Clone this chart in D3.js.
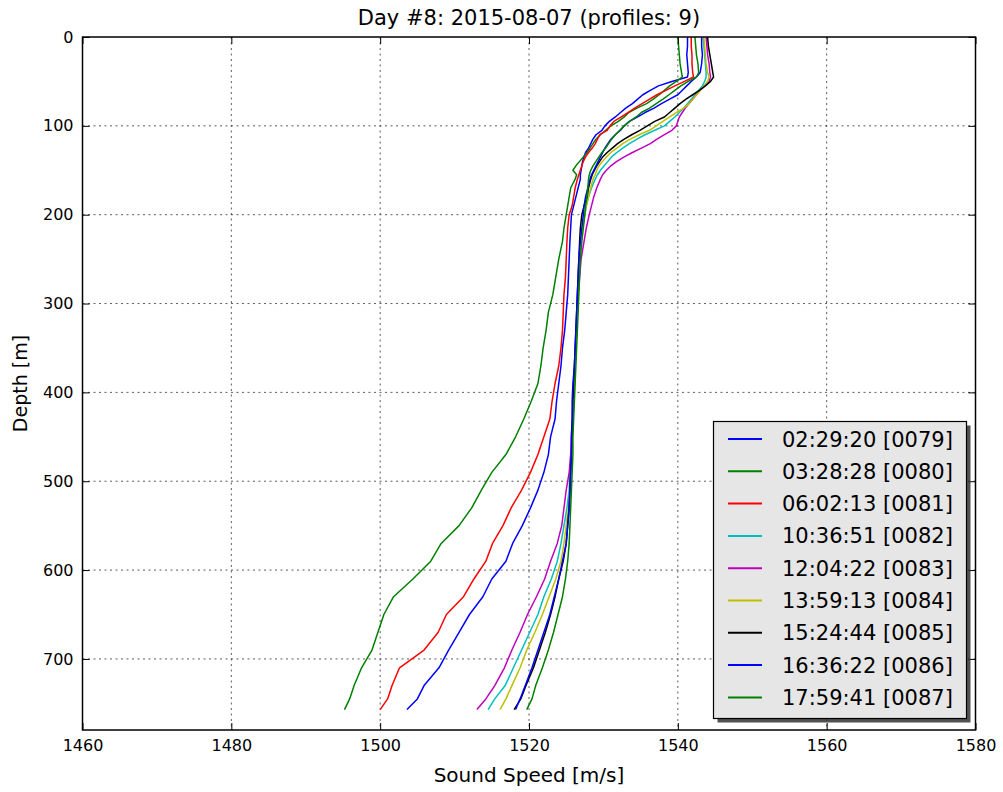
<!DOCTYPE html>
<html>
<head>
<meta charset="utf-8">
<script src="https://cdn.jsdelivr.net/npm/d3@7"></script>
<style>
  body { margin: 0; background: #fff; }
  text { font-family: "DejaVu Sans", sans-serif; fill: #000; }
</style>
</head>
<body>
<svg id="chart" width="1003" height="792"></svg>
<script>
// ---------------- DATA ----------------
const titleText = "Day #8: 2015-08-07 (profiles: 9)";
const xLabel = "Sound Speed [m/s]";
const yLabel = "Depth [m]";
const xTicks = [1460, 1480, 1500, 1520, 1540, 1560, 1580];
const yTicks = [0, 100, 200, 300, 400, 500, 600, 700];
const xDomain = [1460, 1580];
const yDomain = [0, 780];

const profileLabels = [
  "02:29:20 [0079]", "03:28:28 [0080]", "06:02:13 [0081]",
  "10:36:51 [0082]", "12:04:22 [0083]", "13:59:13 [0084]",
  "15:24:44 [0085]", "16:36:22 [0086]", "17:59:41 [0087]"
];
const profileColors = ["#0000ff", "#008000", "#ff0000", "#00bfbf", "#bf00bf", "#bfbf00", "#000000", "#0000ff", "#008000"];

const depths = [0, 10, 20, 30, 40, 45, 50, 55, 60, 65, 70, 75, 80, 85, 90, 95, 100, 105, 110, 115,
  120, 125, 130, 135, 140, 145, 150, 155, 160, 170, 180, 190, 200, 215, 230, 250, 270, 290, 310, 330,
  350, 370, 390, 410, 430, 450, 470, 490, 510, 530, 550, 570, 590, 610, 630, 650, 670, 690, 710, 730,
  745, 757];

const speed0079 = [1541.3, 1541.3, 1541.2, 1541.3, 1541.4, 1541.3, 1539.2, 1537.4, 1536.3, 1535.3,
  1534.6, 1533.9, 1533.0, 1532.3, 1531.6, 1530.8, 1530.2, 1529.8, 1529.0, 1528.6,
  1528.3, 1528.0, 1527.6, 1527.4, 1527.2, 1527.1, 1527.0, 1526.9, 1526.9, 1526.6,
  1526.3, 1526.0, 1525.7, 1525.6, 1525.5, 1525.4, 1525.3, 1525.2, 1525.0, 1524.8,
  1524.5, 1524.3, 1524.0, 1523.7, 1523.5, 1522.9, 1522.6, 1522.0, 1521.2, 1520.2,
  1519.1, 1517.8, 1516.9, 1515.0, 1513.8, 1512.0, 1510.6, 1509.2, 1507.9, 1505.9,
  1505.0, 1503.6];
const speed0080 = [1540.0, 1540.1, 1540.2, 1540.3, 1540.5, 1540.6, 1539.8, 1538.9, 1538.2, 1537.5,
  1536.7, 1535.8, 1534.5, 1533.4, 1532.8, 1532.0, 1531.0, 1530.3, 1529.6, 1529.0,
  1528.6, 1528.2, 1527.8, 1527.3, 1526.8, 1526.3, 1525.9, 1526.4, 1526.2, 1525.6,
  1525.4, 1525.2, 1525.0, 1524.7, 1524.5, 1524.0, 1523.6, 1523.2, 1522.6, 1522.3,
  1521.9, 1521.6, 1521.2, 1520.3, 1519.3, 1518.2, 1516.9, 1515.0, 1513.6, 1512.3,
  1510.6, 1508.2, 1506.8, 1504.4, 1501.8, 1500.5, 1499.7, 1498.9, 1497.5, 1496.5,
  1495.9, 1495.2];
const speed0081 = [1541.8, 1541.8, 1541.9, 1541.9, 1542.0, 1542.1, 1540.9, 1539.6, 1538.4, 1537.2,
  1536.2, 1535.2, 1534.2, 1533.3, 1532.4, 1531.4, 1530.9, 1530.5, 1529.5, 1529.2,
  1528.9, 1528.5, 1528.0, 1527.6, 1527.3, 1527.1, 1526.9, 1526.7, 1526.5, 1526.2,
  1526.0, 1525.8, 1525.4, 1525.2, 1525.1, 1525.0, 1524.9, 1524.7, 1524.6, 1524.5,
  1524.3, 1524.0, 1523.5, 1523.1, 1522.8, 1522.0, 1521.2, 1520.2, 1519.0, 1517.6,
  1516.5, 1515.1, 1514.2, 1512.6, 1511.2, 1508.9, 1507.8, 1505.9, 1502.6, 1501.6,
  1501.0, 1500.0];
const speed0082 = [1543.4, 1543.5, 1543.6, 1543.7, 1543.8, 1543.8, 1543.6, 1543.3, 1542.8, 1542.3,
  1541.8, 1541.3, 1540.8, 1540.2, 1539.6, 1538.9, 1538.2, 1536.9, 1535.6, 1534.5,
  1533.5, 1532.6, 1531.8, 1531.1, 1530.6, 1530.1, 1529.6, 1529.2, 1528.9, 1528.4,
  1528.0, 1527.7, 1527.5, 1527.2, 1527.0, 1526.8, 1526.7, 1526.6, 1526.5, 1526.4,
  1526.3, 1526.2, 1526.1, 1526.0, 1525.9, 1525.8, 1525.7, 1525.5, 1525.4, 1525.1,
  1524.7, 1524.3, 1523.8, 1523.0, 1522.0, 1521.2, 1520.1, 1519.0, 1517.9, 1516.8,
  1515.4, 1514.5];
const speed0083 = [1543.8, 1543.9, 1544.0, 1544.2, 1544.3, 1544.4, 1544.2, 1543.6, 1543.0, 1542.5,
  1542.0, 1541.5, 1541.0, 1540.6, 1540.2, 1540.0, 1539.8, 1539.2, 1538.2, 1537.2,
  1536.3, 1535.1, 1533.9, 1532.8, 1531.8, 1531.0, 1530.4, 1529.9, 1529.6, 1529.1,
  1528.7, 1528.4, 1528.1, 1527.7, 1527.4, 1527.0, 1526.8, 1526.6, 1526.5, 1526.4,
  1526.3, 1526.2, 1526.0, 1525.9, 1525.8, 1525.7, 1525.6, 1525.4, 1525.0, 1524.7,
  1524.4, 1523.8, 1522.9, 1522.1, 1521.0, 1519.8, 1518.8, 1517.7, 1516.7, 1515.4,
  1514.2, 1513.0];
const speed0084 = [1543.5, 1543.6, 1543.7, 1543.8, 1544.0, 1544.2, 1544.0, 1543.5, 1543.0, 1542.5,
  1542.0, 1541.5, 1540.8, 1539.8, 1538.9, 1538.0, 1537.1, 1536.2, 1534.8, 1533.6,
  1532.6, 1531.8, 1531.0, 1530.4, 1529.9, 1529.4, 1529.1, 1528.9, 1528.6, 1528.3,
  1528.0, 1527.7, 1527.5, 1527.2, 1527.0, 1526.8, 1526.7, 1526.6, 1526.5, 1526.4,
  1526.3, 1526.2, 1526.1, 1526.0, 1525.9, 1525.8, 1525.7, 1525.6, 1525.5, 1525.3,
  1525.0, 1524.7, 1524.3, 1523.6, 1522.7, 1521.8, 1520.8, 1519.7, 1518.8, 1517.7,
  1516.9, 1516.1];
const speed0085 = [1544.0, 1544.1, 1544.3, 1544.5, 1544.7, 1544.8, 1544.4, 1543.7, 1542.9, 1542.0,
  1541.1, 1540.3, 1539.6, 1538.9, 1538.2, 1536.9, 1535.9, 1534.9, 1533.8, 1532.8,
  1531.9, 1531.2, 1530.5, 1529.9, 1529.5, 1529.1, 1528.8, 1528.5, 1528.3, 1528.0,
  1527.8, 1527.4, 1527.1, 1526.9, 1526.8, 1526.7, 1526.6, 1526.5, 1526.4, 1526.3,
  1526.2, 1526.1, 1526.0, 1525.9, 1525.9, 1525.8, 1525.7, 1525.6, 1525.5, 1525.4,
  1525.2, 1525.0, 1524.6, 1524.0, 1523.5, 1522.9, 1522.2, 1521.4, 1520.6, 1519.6,
  1518.9, 1518.0];
const speed0086 = [1543.2, 1543.2, 1543.3, 1543.2, 1543.0, 1542.5, 1541.8, 1541.2, 1540.6, 1540.0,
  1538.9, 1537.8, 1536.8, 1535.6, 1534.6, 1533.5, 1532.8, 1532.3, 1531.6, 1531.0,
  1530.6, 1530.2, 1529.9, 1529.6, 1529.3, 1529.0, 1528.7, 1528.4, 1528.2, 1527.9,
  1527.6, 1527.4, 1527.3, 1527.1, 1526.9, 1526.7, 1526.6, 1526.5, 1526.4, 1526.3,
  1526.2, 1526.1, 1525.9, 1525.8, 1525.8, 1525.7, 1525.7, 1525.6, 1525.5, 1525.4,
  1525.2, 1525.0, 1524.5, 1524.0, 1523.4, 1522.8, 1522.0, 1521.2, 1520.4, 1519.5,
  1518.8, 1518.2];
const speed0087 = [1542.3, 1542.4, 1542.5, 1542.7, 1542.8, 1542.5, 1541.4, 1540.4, 1539.6, 1538.8,
  1538.0, 1537.1, 1536.2, 1535.1, 1534.4, 1533.5, 1532.8, 1532.2, 1531.6, 1531.1,
  1530.7, 1530.3, 1529.8, 1529.4, 1529.0, 1528.6, 1528.3, 1528.1, 1528.0, 1527.9,
  1527.8, 1527.6, 1527.5, 1527.3, 1527.1, 1526.9, 1526.8, 1526.7, 1526.6, 1526.5,
  1526.4, 1526.3, 1526.2, 1526.1, 1526.0, 1525.9, 1525.9, 1525.8, 1525.7, 1525.6,
  1525.5, 1525.4, 1525.2, 1524.9, 1524.5, 1523.9, 1523.3, 1522.6, 1521.8, 1520.9,
  1520.4, 1519.7];

const speedSeries = [speed0079, speed0080, speed0081, speed0082, speed0083, speed0084, speed0085, speed0086, speed0087];

// ---------------- LAYOUT ----------------
const svg = d3.select("#chart");
const W = 1003, H = 792;
const plot = { left: 82.5, top: 37, right: 975.5, bottom: 730 };

svg.append("rect").attr("width", W).attr("height", H).attr("fill", "#fff");

const x = d3.scaleLinear().domain(xDomain).range([plot.left, plot.right]);
const y = d3.scaleLinear().domain(yDomain).range([plot.top, plot.bottom]);

// grid
const grid = svg.append("g").attr("stroke", "#000").attr("stroke-width", 0.8)
  .attr("stroke-dasharray", "2,3.5").attr("opacity", 0.8);
grid.selectAll("line.gx").data(xTicks.slice(1, -1)).enter().append("line")
  .attr("x1", d => x(d)).attr("x2", d => x(d)).attr("y1", plot.top).attr("y2", plot.bottom);
grid.selectAll("line.gy").data(yTicks.slice(1)).enter().append("line")
  .attr("y1", d => y(d)).attr("y2", d => y(d)).attr("x1", plot.left).attr("x2", plot.right);

// lines
svg.append("clipPath").attr("id", "clip").append("rect")
  .attr("x", plot.left).attr("y", plot.top).attr("width", plot.right - plot.left).attr("height", plot.bottom - plot.top);
const line = d3.line().x(d => x(d[1])).y(d => y(d[0]));
const linesG = svg.append("g").attr("clip-path", "url(#clip)");
speedSeries.forEach((s, i) => {
  const pts = depths.map((dep, j) => [dep, s[j]]);
  linesG.append("path").datum(pts).attr("d", line)
    .attr("fill", "none").attr("stroke", profileColors[i]).attr("stroke-width", 1.5)
    .attr("stroke-linejoin", "round");
});

// axes (ticks inward, all sides)
const tickLen = 7;
const axBottom = d3.axisBottom(x).tickValues(xTicks).tickSize(-tickLen).tickPadding(10).tickFormat(d3.format("d"));
const axTop = d3.axisTop(x).tickValues(xTicks).tickSize(-tickLen).tickFormat("");
const axLeft = d3.axisLeft(y).tickValues(yTicks).tickSize(-tickLen).tickPadding(9).tickFormat(d3.format("d"));
const axRight = d3.axisRight(y).tickValues(yTicks).tickSize(-tickLen).tickFormat("");

function styleAxis(g) {
  g.select(".domain").remove();
  g.selectAll(".tick line").attr("stroke", "#000").attr("stroke-width", 1);
  g.selectAll(".tick text").attr("font-family", "DejaVu Sans").attr("font-size", 16).attr("fill", "#000");
}
svg.append("g").attr("transform", `translate(0,${plot.bottom})`).call(axBottom).call(styleAxis);
svg.append("g").attr("transform", `translate(0,${plot.top})`).call(axTop).call(styleAxis);
svg.append("g").attr("transform", `translate(${plot.left},0)`).call(axLeft).call(styleAxis);
svg.append("g").attr("transform", `translate(${plot.right},0)`).call(axRight).call(styleAxis);

// frame
svg.append("rect").attr("x", plot.left).attr("y", plot.top)
  .attr("width", plot.right - plot.left).attr("height", plot.bottom - plot.top)
  .attr("fill", "none").attr("stroke", "#000").attr("stroke-width", 1.5);

// titles
svg.append("text").attr("x", (plot.left + plot.right) / 2).attr("y", 25)
  .attr("text-anchor", "middle").attr("font-size", 21).text(titleText);
svg.append("text").attr("x", (plot.left + plot.right) / 2).attr("y", 782)
  .attr("text-anchor", "middle").attr("font-size", 20).text(xLabel);
svg.append("text").attr("transform", `translate(27,${(plot.top + plot.bottom) / 2}) rotate(-90)`)
  .attr("text-anchor", "middle").attr("font-size", 19).text(yLabel);

// legend
const lg = { x: 713.5, y: 421.5, w: 253, h: 297 };
svg.append("rect").attr("x", lg.x + 4).attr("y", lg.y + 4).attr("width", lg.w).attr("height", lg.h)
  .attr("fill", "#333").attr("opacity", 0.85);
svg.append("rect").attr("x", lg.x).attr("y", lg.y).attr("width", lg.w).attr("height", lg.h)
  .attr("fill", "#e6e6e6").attr("stroke", "#000").attr("stroke-width", 1.2);
const rowY0 = 439, rowStep = 32.3;
profileLabels.forEach((lab, i) => {
  const ry = rowY0 + i * rowStep;
  svg.append("line").attr("x1", 728).attr("x2", 762).attr("y1", ry).attr("y2", ry)
    .attr("stroke", profileColors[i]).attr("stroke-width", 2);
  svg.append("text").attr("x", 782).attr("y", ry + 7.5).attr("font-size", 21).text(lab);
});
</script>
</body>
</html>
